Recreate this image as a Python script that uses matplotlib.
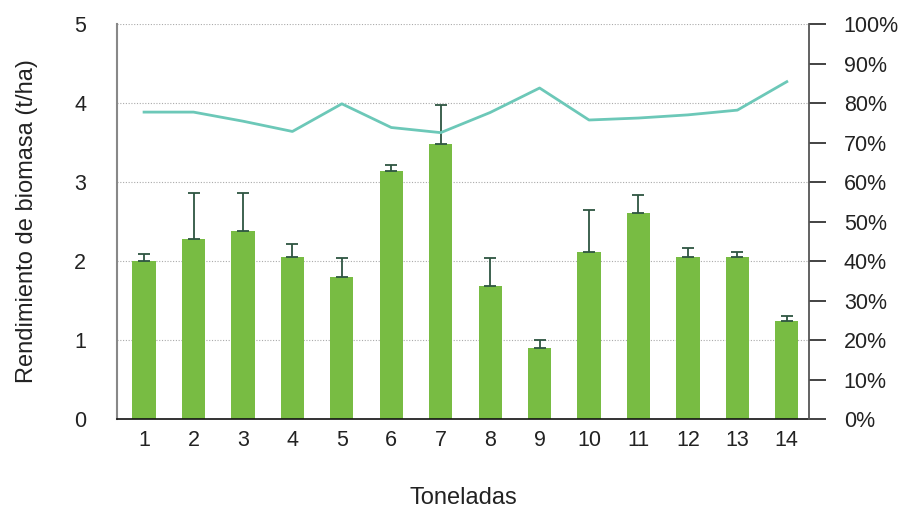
import matplotlib
matplotlib.use("Agg")
import matplotlib.pyplot as plt
from matplotlib.ticker import PercentFormatter, MultipleLocator

plt.rcParams['font.family'] = ['Liberation Sans', 'DejaVu Sans']

categories = [str(i) for i in range(1, 15)]
biomasa = [2.00, 2.28, 2.38, 2.05, 1.80, 3.14, 3.48, 1.69, 0.90, 2.12, 2.61, 2.05, 2.05, 1.24]
error_sup = [0.09, 0.58, 0.48, 0.16, 0.24, 0.07, 0.50, 0.35, 0.10, 0.52, 0.23, 0.11, 0.07, 0.06]
porcentaje = [0.777, 0.777, 0.754, 0.728, 0.798, 0.738, 0.725, 0.776, 0.838, 0.757, 0.762, 0.770, 0.782, 0.854]

BAR_COLOR = '#78bc43'
ERR_COLOR = '#2e5541'
LINE_COLOR = '#6cc8b8'
TEXT_COLOR = '#222222'

fig = plt.figure(figsize=(9.06, 5.11), dpi=100)
ax = fig.add_axes([0.129, 0.180, 0.764, 0.773])

x = list(range(1, len(categories) + 1))
ax.bar(x, biomasa, width=0.47, color=BAR_COLOR, zorder=2)
ax.errorbar(x, biomasa, yerr=[[0] * len(x), error_sup], fmt='none',
            ecolor=ERR_COLOR, elinewidth=1.3, capsize=4, capthick=1.3, zorder=3)

ax.set_xlim(0.45, 14.45)
ax.set_ylim(0, 5)
ax.yaxis.set_major_locator(MultipleLocator(1))
ax.set_xticks(x)
ax.set_xticklabels(categories)
ax.grid(axis='y', linestyle=(0, (1, 1.5)), color='#aaaaaa', linewidth=0.8, zorder=0)
ax.set_axisbelow(True)

for s in ['top', 'right']:
    ax.spines[s].set_visible(False)
ax.spines['left'].set_color('#888888')
ax.spines['left'].set_linewidth(1.5)
ax.spines['bottom'].set_color('#111111')
ax.spines['bottom'].set_linewidth(1.2)

ax.tick_params(axis='y', length=0, pad=22, labelsize=15.5, labelcolor=TEXT_COLOR)
ax.tick_params(axis='x', length=0, pad=8, labelsize=15.5, labelcolor=TEXT_COLOR)

ax.set_ylabel('Rendimiento de biomasa (t/ha)', fontsize=17, color=TEXT_COLOR, labelpad=26)
ax.set_xlabel('Toneladas', fontsize=17, color=TEXT_COLOR, labelpad=26)

ax2 = ax.twinx()
ax2.plot(x, porcentaje, color=LINE_COLOR, linewidth=2.0, zorder=4)
ax2.set_ylim(0, 1)
ax2.yaxis.set_major_locator(MultipleLocator(0.1))
ax2.yaxis.set_major_formatter(PercentFormatter(1.0, decimals=0))
for s in ['top', 'left', 'bottom']:
    ax2.spines[s].set_visible(False)
ax2.spines['right'].set_color('#555555')
ax2.spines['right'].set_linewidth(1.3)
ax2.tick_params(axis='y', direction='out', length=12, width=1.2, color='#222222',
                pad=13, labelsize=15.5, labelcolor=TEXT_COLOR)

fig.savefig('out.png', dpi=100)
